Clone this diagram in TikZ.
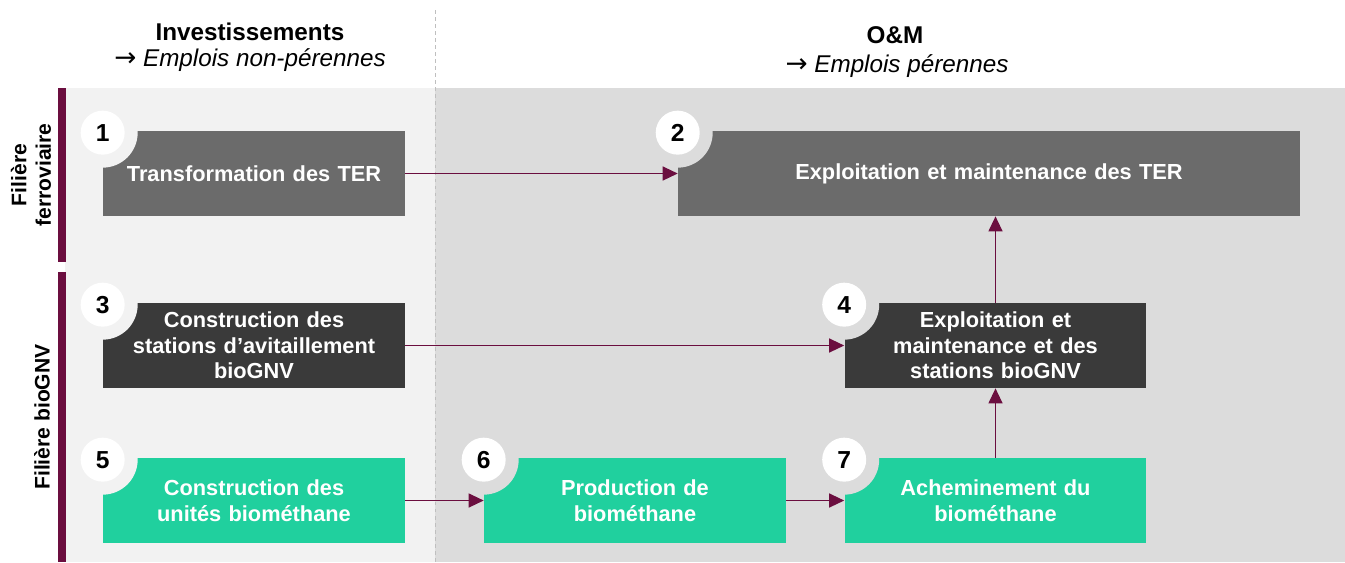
\documentclass[tikz,border=0pt]{standalone}
\usepackage{fontspec}
\setmainfont{Liberation Sans}
\newfontfamily\flechefont{DejaVu Sans}
\usetikzlibrary{positioning,arrows.meta}
\definecolor{bordeaux}{RGB}{107,14,63}
\definecolor{vertgnv}{RGB}{32,208,158}
\definecolor{grisfonce}{RGB}{58,58,58}
\definecolor{grismoyen}{RGB}{107,107,107}
\definecolor{fondinv}{RGB}{242,242,242}
\definecolor{fondom}{RGB}{220,220,220}

% numbered disc cut into the top left corner of a box
\newcommand{\etape}[3]{%
    \fill[#2] ([yshift=-0.04cm]#1.north west) circle (0.7cm);
    \node[numero] (n#3) at ([yshift=-0.04cm]#1.north west) {#3};
}
\newcommand{\fleche}{{\flechefont\fontsize{15}{16}\selectfont →}}

\begin{document}
\begin{tikzpicture}[x=0.02cm,y=-0.02cm,
    bloc/.style={rectangle, minimum width=6.04cm, minimum height=1.7cm,
        inner sep=0pt, text width=5.9cm, align=center, text=white,
        font=\bfseries\fontsize{12.4}{14.5}\selectfont},
    numero/.style={circle, fill=white, minimum size=0.88cm, inner sep=0pt,
        font=\bfseries\fontsize{14}{16}\selectfont},
    lien/.style={draw=bordeaux, line width=0.7pt,
        -{Triangle[length=0.3cm,width=0.28cm]}},
    titre/.style={align=center, font=\fontsize{13.8}{16}\selectfont},
    filiere/.style={rotate=90, align=center, font=\bfseries\fontsize{12}{14}\selectfont}]
    \useasboundingbox (0,0) rectangle (1345,562);
    % backgrounds
    \fill[fondinv] (65,88) rectangle (435,562);
    \fill[fondom] (435,88) rectangle (1345,562);
    \draw[gray!50, dash pattern=on 2pt off 2pt] (435,10) -- (435,562);
    \fill[bordeaux] (58,88) rectangle (66,262);
    \fill[bordeaux] (58,272) rectangle (66,562);
    \node[filiere] (ferro) at (31,175) {Filière\\ferroviaire};
    \node[filiere] (gnv) at (42,417) {Filière bioGNV};
    % column headers
    \node[titre] (invest) at (250,32) {\textbf{Investissements}};
    \node[titre] (nonper) at (250,60) {\fleche\ \textit{Emplois non-pérennes}};
    \node[titre] (om) at (895,35) {\textbf{O\&M}};
    \node[titre] (per) at (897,66) {\fleche\ \textit{Emplois pérennes}};
    % boxes
    \node[bloc, fill=grismoyen] (b1) at (254,173.5) {Transformation des TER};
    \node[bloc, fill=grismoyen, minimum width=12.44cm, text width=11cm] (b2) at (989,173.5) {Exploitation et maintenance des TER};
    \node[bloc, fill=grisfonce] (b3) at (254,345.5) {Construction des\\stations d’avitaillement\\bioGNV};
    \node[bloc, fill=grisfonce] (b4) at (995.5,345.5) {Exploitation et\\maintenance et des\\stations bioGNV};
    \node[bloc, fill=vertgnv] (b5) at (254,500.5) {Construction des\\unités biométhane};
    \node[bloc, fill=vertgnv] (b6) at (635,500.5) {Production de\\biométhane};
    \node[bloc, fill=vertgnv] (b7) at (995.5,500.5) {Acheminement du\\biométhane};
    \etape{b1}{fondinv}{1}
    \etape{b2}{fondom}{2}
    \etape{b3}{fondinv}{3}
    \etape{b4}{fondom}{4}
    \etape{b5}{fondinv}{5}
    \etape{b6}{fondom}{6}
    \etape{b7}{fondom}{7}
    % links
    \draw[lien] (b1) -- (b2);
    \draw[lien] (b3) -- (b4);
    \draw[lien] (b5) -- (b6);
    \draw[lien] (b6) -- (b7);
    \draw[lien] (b7) -- (b4);
    \draw[lien] (b4.north) -- (b4.north |- b2.south);
\end{tikzpicture}
\end{document}
